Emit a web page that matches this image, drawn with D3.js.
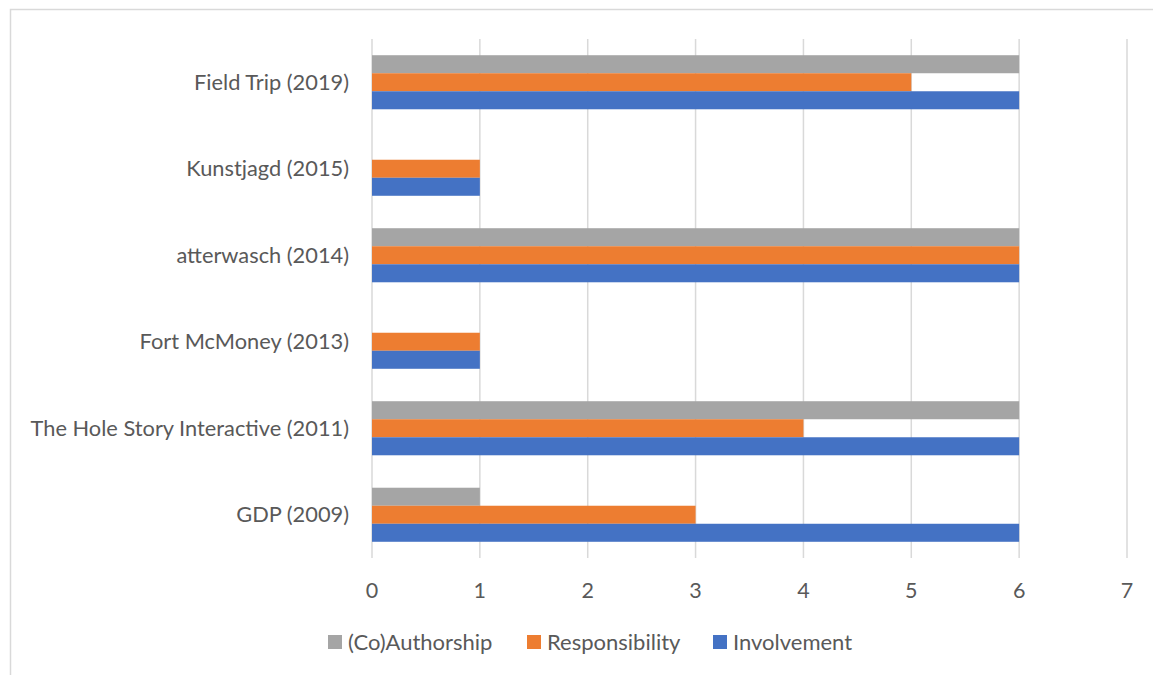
<!DOCTYPE html>
<html><head><meta charset="utf-8">
<script src="https://cdn.jsdelivr.net/npm/d3@7"></script>
<style>body{margin:0;background:#fff;}svg{display:block;}text{font-family:Lato,"Open Sans",sans-serif;fill:#595959;}</style>
</head><body><svg id="c" width="1153" height="675"></svg>
<script>
const categories = ["Field Trip (2019)","Kunstjagd (2015)","atterwasch (2014)","Fort McMoney (2013)","The Hole Story Interactive (2011)","GDP (2009)"];
const seriesNames = ["(Co)Authorship","Responsibility","Involvement"];
const authorship = [6,0,6,0,6,1];
const responsibility = [5,1,6,1,4,3];
const involvement = [6,1,6,1,6,6];
const colors = ["#a5a5a5","#ed7d31","#4472c4"];
const xTicks = [0,1,2,3,4,5,6,7];
const values = [authorship, responsibility, involvement];

const svg = d3.select("#c");
svg.append("rect").attr("x",10.5).attr("y",9.5).attr("width",1160).attr("height",700).attr("fill","none").attr("stroke","#d9d9d9").attr("stroke-width",1.5);

const x = d3.scaleLinear().domain([0,7]).range([372,1127]);
const y = d3.scaleBand().domain(categories).range([39,558]).paddingInner(0.375).paddingOuter(0.1875);
const ys = d3.scaleBand().domain(seriesNames).range([0,y.bandwidth()]);

// gridlines
svg.append("g").selectAll("line").data(xTicks).join("line")
  .attr("x1",d=>x(d)).attr("x2",d=>x(d)).attr("y1",39).attr("y2",558)
  .attr("stroke","#d9d9d9").attr("stroke-width",1.5);

// bars
const g = svg.append("g");
seriesNames.forEach((s,si)=>{
  g.selectAll(null).data(categories).join("rect")
    .attr("x",x(0)).attr("y",(c)=>y(c)+ys(s))
    .attr("width",(c,i)=>x(values[si][i])-x(0)).attr("height",ys.bandwidth())
    .attr("fill",colors[si]);
});

// category labels
svg.append("g").selectAll("text").data(categories).join("text")
  .attr("x",349).attr("y",c=>y(c)+y.bandwidth()/2).attr("dy","0.35em")
  .attr("text-anchor","end").attr("font-size",21.8).text(c=>c);

// x tick labels
svg.append("g").selectAll("text").data(xTicks).join("text")
  .attr("x",d=>x(d)).attr("y",590).attr("dy","0.35em")
  .attr("text-anchor","middle").attr("font-size",21.5).text(d=>d);

// legend
const legX = [328,527,713];
seriesNames.forEach((s,i)=>{
  svg.append("rect").attr("x",legX[i]).attr("y",635).attr("width",14).attr("height",14).attr("fill",colors[i]);
  svg.append("text").attr("x",legX[i]+20).attr("y",642).attr("dy","0.35em").attr("font-size",22).text(s);
});
</script></body></html>
